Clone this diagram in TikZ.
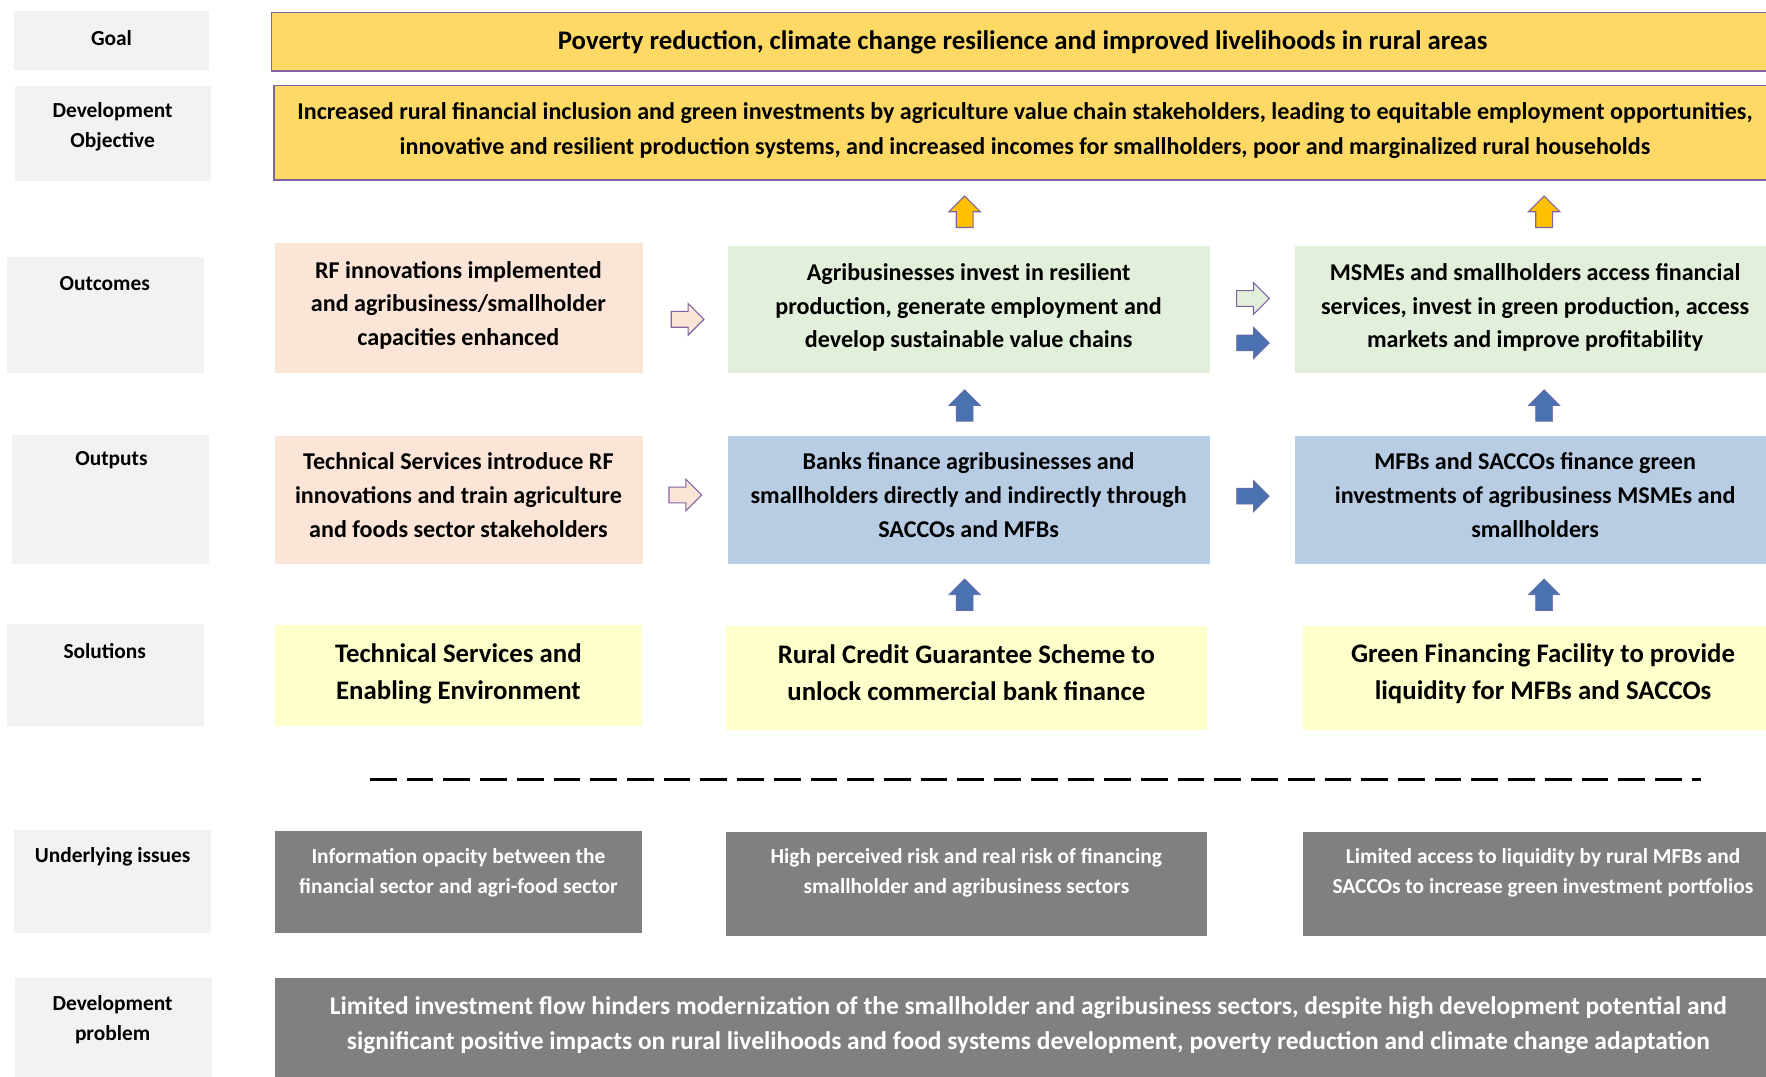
\documentclass[tikz,border=0pt]{standalone}
\usepackage{fontspec}
\setmainfont{Carlito}
\definecolor{labelgray}{HTML}{F2F2F2}
\definecolor{gold}{HTML}{FFD966}
\definecolor{goldarrow}{HTML}{FFC000}
\definecolor{purp}{HTML}{8064A2}
\definecolor{pinkbox}{HTML}{FCE4D6}
\definecolor{greenbox}{HTML}{E2EFDA}
\definecolor{bluebox}{HTML}{B8CCE4}
\definecolor{yellowbox}{HTML}{FFFFCC}
\definecolor{graybox}{HTML}{808080}
\definecolor{bluearrow}{HTML}{4A72B0}
\newcommand{\rarr}[3]{\draw[#3] (#1-14.5,#2-7) -- (#1+0.5,#2-7) -- (#1+0.5,#2-14) -- (#1+14.5,#2) -- (#1+0.5,#2+14) -- (#1+0.5,#2+7) -- (#1-14.5,#2+7) -- cycle;}
\newcommand{\uarr}[3]{\draw[#3] (#1-7.5,#2+14) -- (#1-7.5,#2) -- (#1-14,#2) -- (#1,#2-14) -- (#1+14,#2) -- (#1+7.5,#2) -- (#1+7.5,#2+14) -- cycle;}
\tikzset{
  box/.style={rectangle, draw=none, anchor=north west, inner sep=0pt, outer sep=0pt},
  lbl/.style={box, fill=labelgray},
  txt/.style={align=center, inner sep=0pt},
  lbltxt/.style={txt, font=\fontsize{19}{26.5}\selectfont\bfseries},
  midtxt/.style={txt, font=\fontsize{21.4}{30}\selectfont\bfseries},
  soltxt/.style={txt, font=\fontsize{23.8}{33}\selectfont\bfseries},
  undtxt/.style={txt, text=white, font=\fontsize{19}{26}\selectfont\bfseries},
  parrow/.style={fill=pinkbox, draw=purp, line width=1pt},
  garrow/.style={fill=greenbox, draw=purp, line width=1pt},
  barrow/.style={fill=bluearrow, draw=purp!60!bluearrow, line width=0.6pt},
  yarrow/.style={fill=goldarrow, draw=purp, line width=1pt},
}
\begin{document}
\begin{tikzpicture}[x=1pt,y=-1pt]
\useasboundingbox (0,0) rectangle (1568,956);
\clip (0,0) rectangle (1568,956);
% left labels
\node[lbl, minimum width=174, minimum height=52] (lgoal) at (12,10) {};
\node[lbltxt] (tgoal) at (99,33.5) {Goal};
\node[lbl, minimum width=174, minimum height=85] (ldev) at (13,76) {};
\node[lbltxt] (tdev) at (100,112.5) {Development\\Objective};
\node[lbl, minimum width=175, minimum height=103] (lout) at (6,228) {};
\node[lbltxt] (tout) at (93,252) {Outcomes};
\node[lbl, minimum width=175, minimum height=115] (lput) at (11,386) {};
\node[lbltxt] (tput) at (99,409) {Outputs};
\node[lbl, minimum width=175, minimum height=91] (lsol) at (6,554) {};
\node[lbltxt] (tsol) at (93,578) {Solutions};
\node[lbl, minimum width=175, minimum height=91] (lund) at (12,737) {};
\node[lbltxt] (tund) at (100,761) {Underlying issues};
\node[lbl, minimum width=175, minimum height=90] (ldp) at (13,868) {};
\node[lbltxt] (tdp) at (100,905) {Development\\problem};
% goal & objective
\node[box, fill=gold, draw=purp, line width=1.5pt, minimum width=1340, minimum height=52] (goal) at (241,11) {};
\node[txt, font=\fontsize{23.8}{30}\selectfont\bfseries] (goalt) at (908,38) {Poverty reduction, climate change resilience and improved livelihoods in rural areas};
\node[box, fill=gold, draw=purp, line width=1.5pt, minimum width=1340, minimum height=84] (obj) at (243,76) {};
\node[txt, font=\fontsize{21.4}{31}\selectfont\bfseries] (objt) at (910,116) {Increased rural financial inclusion and green investments by agriculture value chain stakeholders, leading to equitable employment opportunities,\\innovative and resilient production systems, and increased incomes for smallholders, poor and marginalized rural households};
% outcomes
\node[box, fill=pinkbox, minimum width=327, minimum height=115] (o1) at (244,216) {};
\node[midtxt] (o1t) at (407,271) {RF innovations implemented\\and agribusiness/smallholder\\capacities enhanced};
\node[box, fill=greenbox, minimum width=428, minimum height=113] (o2) at (646,218) {};
\node[midtxt] (o2t) at (860,273) {Agribusinesses invest in resilient\\production, generate employment and\\develop sustainable value chains};
\node[box, fill=greenbox, minimum width=430, minimum height=113] (o3) at (1150,218) {};
\node[midtxt] (o3t) at (1363,273) {MSMEs and smallholders access financial\\services, invest in green production, access\\markets and improve profitability};
% outputs
\node[box, fill=pinkbox, minimum width=327, minimum height=114] (p1) at (244,387) {};
\node[midtxt] (p1t) at (407,439.5) {Technical Services introduce RF\\innovations and train agriculture\\and foods sector stakeholders};
\node[box, fill=bluebox, minimum width=428, minimum height=114] (p2) at (646,387) {};
\node[midtxt] (p2t) at (860,439.5) {Banks finance agribusinesses and\\smallholders directly and indirectly through\\SACCOs and MFBs};
\node[box, fill=bluebox, minimum width=430, minimum height=114] (p3) at (1150,387) {};
\node[midtxt] (p3t) at (1363,439.5) {MFBs and SACCOs finance green\\investments of agribusiness MSMEs and\\smallholders};
% solutions
\node[box, fill=yellowbox, minimum width=326, minimum height=90] (s1) at (244,555) {};
\node[soltxt] (s1t) at (407,598.5) {Technical Services and\\Enabling Environment};
\node[box, fill=yellowbox, minimum width=427, minimum height=92] (s2) at (645,556) {};
\node[soltxt] (s2t) at (858,597.5) {Rural Credit Guarantee Scheme to\\unlock commercial bank finance};
\node[box, fill=yellowbox, minimum width=420, minimum height=92] (s3) at (1157,556) {};
\node[soltxt] (s3t) at (1370,598.5) {Green Financing Facility to provide\\liquidity for MFBs and SACCOs};
% dashed separator
\coordinate (dl) at (328.5,692);
\coordinate (dr) at (1510,692);
\draw[line width=3pt, dash pattern=on 23.7pt off 8.9pt] (dl) -- (dr);
% underlying issues
\node[box, fill=graybox, minimum width=326, minimum height=90] (u1) at (244,738) {};
\node[undtxt] (u1t) at (407,775) {Information opacity between the\\financial sector and agri-food sector};
\node[box, fill=graybox, minimum width=427, minimum height=92] (u2) at (645,739) {};
\node[undtxt] (u2t) at (858,775) {High perceived risk and real risk of financing\\smallholder and agribusiness sectors};
\node[box, fill=graybox, minimum width=420, minimum height=92] (u3) at (1157,739) {};
\node[undtxt] (u3t) at (1370,775) {Limited access to liquidity by rural MFBs and\\SACCOs to increase green investment portfolios};
% development problem
\node[box, fill=graybox, minimum width=1336, minimum height=95] (dp) at (244,868) {};
\node[txt, text=white, font=\fontsize{22.6}{31}\selectfont\bfseries] (dpt) at (913,910.5) {Limited investment flow hinders modernization of the smallholder and agribusiness sectors, despite high development potential and\\significant positive impacts on rural livelihoods and food systems development, poverty reduction and climate change adaptation};
% block arrows
\uarr{856.5}{188}{yarrow}
\uarr{1371}{188}{yarrow}
\uarr{856.5}{360}{barrow}
\uarr{1371}{360}{barrow}
\uarr{856.5}{528}{barrow}
\uarr{1371}{528}{barrow}
\rarr{610.5}{283.5}{parrow}
\rarr{608.5}{439.5}{parrow}
\rarr{1112.5}{265}{garrow}
\rarr{1112.5}{304.5}{barrow}
\rarr{1112.5}{440.5}{barrow}
\end{tikzpicture}
\end{document}
